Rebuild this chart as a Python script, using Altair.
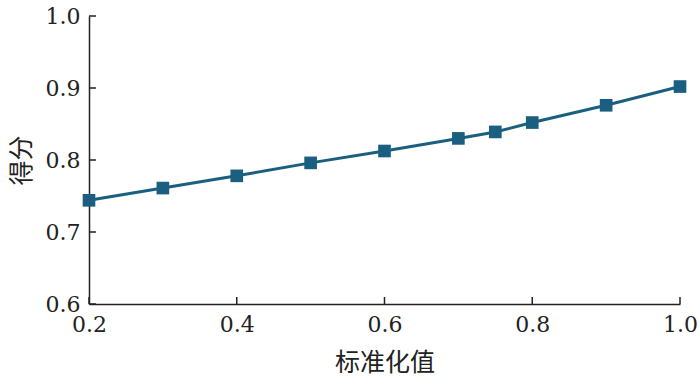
import altair as alt
import pandas as pd

x_vals = [0.2, 0.3, 0.4, 0.5, 0.6, 0.7, 0.75, 0.8, 0.9, 1.0]
y_vals = [0.744, 0.761, 0.778, 0.796, 0.8125, 0.830, 0.839, 0.852, 0.876, 0.902]
x_ticks = [0.2, 0.4, 0.6, 0.8, 1.0]
y_ticks = [0.6, 0.7, 0.8, 0.9, 1.0]

df = pd.DataFrame({"x": x_vals, "y": y_vals})
xt = pd.DataFrame({"t": x_ticks})
yt = pd.DataFrame({"t": y_ticks})

FONT = "DejaVu Serif"
CJK = "Noto Sans CJK SC"
COLOR = "#1a5f80"

xs = alt.Scale(domain=[0.2, 1.0], nice=False, zero=False)
ys = alt.Scale(domain=[0.6, 1.0], nice=False, zero=False)

def x_axis():
    return alt.Axis(values=x_ticks, format=".1f", title="标准化值",
                    labelPadding=10, titlePadding=15)

def y_axis():
    return alt.Axis(values=y_ticks, format=".1f", title="得分",
                    labelPadding=9, titlePadding=11)

line = alt.Chart(df).mark_line(color=COLOR, strokeWidth=3).encode(
    x=alt.X("x:Q", scale=xs, axis=x_axis()),
    y=alt.Y("y:Q", scale=ys, axis=y_axis()),
)
pts = alt.Chart(df).mark_square(color=COLOR, size=160, opacity=1).encode(
    x=alt.X("x:Q", scale=xs, axis=x_axis()),
    y=alt.Y("y:Q", scale=ys, axis=y_axis()),
)
xtick = alt.Chart(xt).mark_rule(color="#222", strokeWidth=1.5).encode(
    x=alt.X("t:Q", scale=xs, axis=x_axis()),
    y=alt.value(288), y2=alt.value(281),
)
ytick = alt.Chart(yt).mark_rule(color="#222", strokeWidth=1.5).encode(
    y=alt.Y("t:Q", scale=ys, axis=y_axis()),
    x=alt.value(0), x2=alt.value(7),
)

chart = alt.layer(line, xtick, ytick, pts).properties(
    width=591, height=288,
    autosize=alt.AutoSizeParams(type="none"),
    padding={"left": 89, "top": 16, "right": 20, "bottom": 81},
    background="white",
).configure_view(stroke=None).configure_axis(
    tickSize=0, labelFontSize=22, labelFont=FONT, labelColor="#222",
    titleFont=CJK, titleFontSize=25, titleFontWeight="normal", titleColor="#222",
    domainColor="#222", domainWidth=1.5, grid=False, labelFlush=False,
)

chart.save("out.html", embed_options={"renderer": "svg", "actions": False})
